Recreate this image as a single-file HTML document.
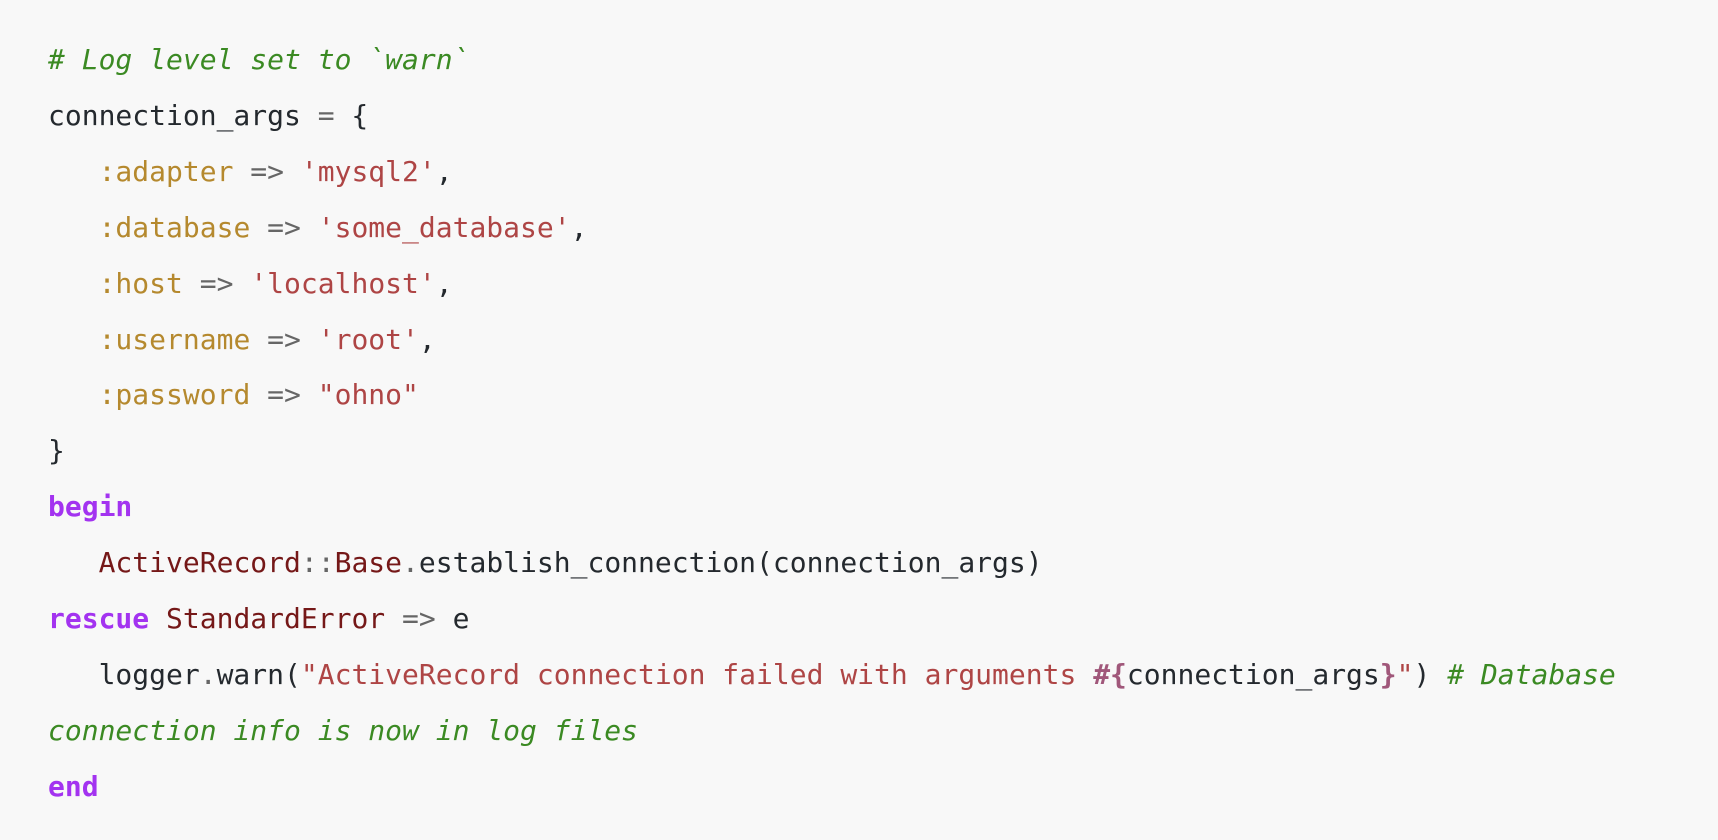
<!DOCTYPE html>
<html><head><meta charset="utf-8"><style>
html,body{margin:0;padding:0;background:#f8f8f8;width:1718px;height:840px;overflow:hidden}
pre{margin:0;position:absolute;left:48px;top:32px;font-family:"DejaVu Sans Mono","Liberation Mono",monospace;font-size:28px;line-height:55.9px;color:#24292e;white-space:pre}
.c{color:#3b8a23;font-style:italic}
.k{color:#a333f0;font-weight:bold}
.s{color:#b5892e}
.t{color:#ae4545}
.o{color:#666}
.n{color:#751818}
.i{color:#a0577a;font-weight:bold}
</style></head><body>
<pre><span class="c"># Log level set to `warn`</span>
connection_args <span class="o">=</span> {
   <span class="s">:adapter</span> <span class="o">=&gt;</span> <span class="t">'mysql2'</span>,
   <span class="s">:database</span> <span class="o">=&gt;</span> <span class="t">'some_database'</span>,
   <span class="s">:host</span> <span class="o">=&gt;</span> <span class="t">'localhost'</span>,
   <span class="s">:username</span> <span class="o">=&gt;</span> <span class="t">'root'</span>,
   <span class="s">:password</span> <span class="o">=&gt;</span> <span class="t">"ohno"</span>
}
<span class="k">begin</span>
   <span class="n">ActiveRecord</span><span class="o">::</span><span class="n">Base</span><span class="o">.</span>establish_connection(connection_args)
<span class="k">rescue</span> <span class="n">StandardError</span> <span class="o">=&gt;</span> e
   logger<span class="o">.</span>warn(<span class="t">"ActiveRecord connection failed with arguments </span><span class="i">#{</span>connection_args<span class="i">}</span><span class="t">"</span>) <span class="c"># Database</span>
<span class="c">connection info is now in log files</span>
<span class="k">end</span></pre>
</body></html>
